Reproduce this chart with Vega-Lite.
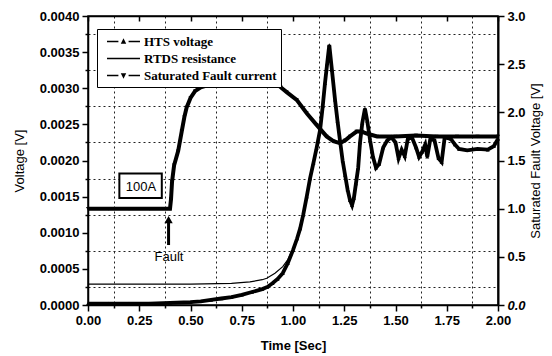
{
  "$schema": "https://vega.github.io/schema/vega-lite/v6.json",
  "width": 410,
  "height": 289,
  "autosize": {"type": "none"},
  "padding": {"left": 88, "top": 16, "right": 54, "bottom": 51},
  "background": "white",
  "config": {
    "view": {"stroke": "black", "strokeWidth": 1.5},
    "axis": {
      "labelFont": "Liberation Sans", "labelFontSize": 13, "labelFontWeight": "bold", "labelColor": "black",
      "titleFont": "Liberation Sans", "titleFontSize": 13, "titleFontWeight": "normal", "titleColor": "black",
      "domainColor": "black", "domainWidth": 1.5, "tickColor": "black", "tickWidth": 1.5,
      "labelOverlap": false, "labelFlush": false
    }
  },
  "datasets": {
    "curves": [
      {"s": "HTS voltage", "t": 0.0, "v": 0.00002},
      {"s": "HTS voltage", "t": 0.1, "v": 0.00002},
      {"s": "HTS voltage", "t": 0.2, "v": 0.00002},
      {"s": "HTS voltage", "t": 0.3, "v": 0.00002},
      {"s": "HTS voltage", "t": 0.4, "v": 0.00003},
      {"s": "HTS voltage", "t": 0.5, "v": 0.00004},
      {"s": "HTS voltage", "t": 0.55, "v": 0.00005},
      {"s": "HTS voltage", "t": 0.6, "v": 0.00007},
      {"s": "HTS voltage", "t": 0.65, "v": 0.00009},
      {"s": "HTS voltage", "t": 0.7, "v": 0.00011},
      {"s": "HTS voltage", "t": 0.75, "v": 0.00014},
      {"s": "HTS voltage", "t": 0.8, "v": 0.00018},
      {"s": "HTS voltage", "t": 0.85, "v": 0.00022},
      {"s": "HTS voltage", "t": 0.875, "v": 0.00025},
      {"s": "HTS voltage", "t": 0.9, "v": 0.0003},
      {"s": "HTS voltage", "t": 0.925, "v": 0.00036},
      {"s": "HTS voltage", "t": 0.95, "v": 0.00044},
      {"s": "HTS voltage", "t": 0.975, "v": 0.00058},
      {"s": "HTS voltage", "t": 1.0, "v": 0.00076},
      {"s": "HTS voltage", "t": 1.02, "v": 0.00092},
      {"s": "HTS voltage", "t": 1.035, "v": 0.00106},
      {"s": "HTS voltage", "t": 1.05, "v": 0.00125},
      {"s": "HTS voltage", "t": 1.067, "v": 0.0015},
      {"s": "HTS voltage", "t": 1.083, "v": 0.00175},
      {"s": "HTS voltage", "t": 1.1, "v": 0.00197},
      {"s": "HTS voltage", "t": 1.115, "v": 0.00217},
      {"s": "HTS voltage", "t": 1.132, "v": 0.00242},
      {"s": "HTS voltage", "t": 1.145, "v": 0.00275},
      {"s": "HTS voltage", "t": 1.156, "v": 0.00307},
      {"s": "HTS voltage", "t": 1.167, "v": 0.00335},
      {"s": "HTS voltage", "t": 1.177, "v": 0.0036},
      {"s": "HTS voltage", "t": 1.19, "v": 0.00325},
      {"s": "HTS voltage", "t": 1.205, "v": 0.00284},
      {"s": "HTS voltage", "t": 1.217, "v": 0.00255},
      {"s": "HTS voltage", "t": 1.229, "v": 0.00228},
      {"s": "HTS voltage", "t": 1.242, "v": 0.002},
      {"s": "HTS voltage", "t": 1.254, "v": 0.0018},
      {"s": "HTS voltage", "t": 1.266, "v": 0.0016},
      {"s": "HTS voltage", "t": 1.278, "v": 0.00145},
      {"s": "HTS voltage", "t": 1.288, "v": 0.00138},
      {"s": "HTS voltage", "t": 1.297, "v": 0.00148},
      {"s": "HTS voltage", "t": 1.307, "v": 0.00168},
      {"s": "HTS voltage", "t": 1.318, "v": 0.0019},
      {"s": "HTS voltage", "t": 1.327, "v": 0.00225},
      {"s": "HTS voltage", "t": 1.338, "v": 0.00252},
      {"s": "HTS voltage", "t": 1.351, "v": 0.00272},
      {"s": "HTS voltage", "t": 1.362, "v": 0.00255},
      {"s": "HTS voltage", "t": 1.376, "v": 0.00228},
      {"s": "HTS voltage", "t": 1.39, "v": 0.00205},
      {"s": "HTS voltage", "t": 1.405, "v": 0.0019},
      {"s": "HTS voltage", "t": 1.42, "v": 0.00195},
      {"s": "HTS voltage", "t": 1.44, "v": 0.00218},
      {"s": "HTS voltage", "t": 1.46, "v": 0.00228},
      {"s": "HTS voltage", "t": 1.48, "v": 0.00232},
      {"s": "HTS voltage", "t": 1.5, "v": 0.00225},
      {"s": "HTS voltage", "t": 1.515, "v": 0.00203},
      {"s": "HTS voltage", "t": 1.53, "v": 0.00215},
      {"s": "HTS voltage", "t": 1.545, "v": 0.00206},
      {"s": "HTS voltage", "t": 1.56, "v": 0.0023},
      {"s": "HTS voltage", "t": 1.58, "v": 0.00232},
      {"s": "HTS voltage", "t": 1.6, "v": 0.00218},
      {"s": "HTS voltage", "t": 1.615, "v": 0.00205},
      {"s": "HTS voltage", "t": 1.63, "v": 0.00212},
      {"s": "HTS voltage", "t": 1.645, "v": 0.00222},
      {"s": "HTS voltage", "t": 1.655, "v": 0.00205},
      {"s": "HTS voltage", "t": 1.67, "v": 0.0023},
      {"s": "HTS voltage", "t": 1.69, "v": 0.00228},
      {"s": "HTS voltage", "t": 1.71, "v": 0.00203},
      {"s": "HTS voltage", "t": 1.725, "v": 0.00198},
      {"s": "HTS voltage", "t": 1.74, "v": 0.00232},
      {"s": "HTS voltage", "t": 1.77, "v": 0.0023},
      {"s": "HTS voltage", "t": 1.79, "v": 0.00222},
      {"s": "HTS voltage", "t": 1.81, "v": 0.00216},
      {"s": "HTS voltage", "t": 1.85, "v": 0.00214},
      {"s": "HTS voltage", "t": 1.9, "v": 0.00216},
      {"s": "HTS voltage", "t": 1.95, "v": 0.00215},
      {"s": "HTS voltage", "t": 1.98, "v": 0.0022},
      {"s": "HTS voltage", "t": 2.0, "v": 0.0023},
      {"s": "RTDS resistance", "t": 0.0, "v": 0.00029},
      {"s": "RTDS resistance", "t": 0.5, "v": 0.00029},
      {"s": "RTDS resistance", "t": 0.7, "v": 0.0003},
      {"s": "RTDS resistance", "t": 0.79, "v": 0.00032},
      {"s": "RTDS resistance", "t": 0.85, "v": 0.00035},
      {"s": "RTDS resistance", "t": 0.872, "v": 0.00037},
      {"s": "RTDS resistance", "t": 0.912, "v": 0.00044},
      {"s": "RTDS resistance", "t": 0.95, "v": 0.00053},
      {"s": "RTDS resistance", "t": 0.975, "v": 0.00063},
      {"s": "RTDS resistance", "t": 1.0, "v": 0.00078},
      {"s": "RTDS resistance", "t": 1.035, "v": 0.00106},
      {"s": "RTDS resistance", "t": 1.067, "v": 0.0015},
      {"s": "RTDS resistance", "t": 1.1, "v": 0.00197},
      {"s": "Saturated Fault current", "t": 0.0, "v": 1.0},
      {"s": "Saturated Fault current", "t": 0.1, "v": 1.0},
      {"s": "Saturated Fault current", "t": 0.2, "v": 1.0},
      {"s": "Saturated Fault current", "t": 0.3, "v": 1.0},
      {"s": "Saturated Fault current", "t": 0.4, "v": 1.0},
      {"s": "Saturated Fault current", "t": 0.405, "v": 1.1},
      {"s": "Saturated Fault current", "t": 0.41, "v": 1.28},
      {"s": "Saturated Fault current", "t": 0.42, "v": 1.45},
      {"s": "Saturated Fault current", "t": 0.44, "v": 1.6},
      {"s": "Saturated Fault current", "t": 0.457, "v": 1.8},
      {"s": "Saturated Fault current", "t": 0.47, "v": 1.95},
      {"s": "Saturated Fault current", "t": 0.481, "v": 2.05},
      {"s": "Saturated Fault current", "t": 0.5, "v": 2.15},
      {"s": "Saturated Fault current", "t": 0.522, "v": 2.22},
      {"s": "Saturated Fault current", "t": 0.55, "v": 2.26},
      {"s": "Saturated Fault current", "t": 0.6, "v": 2.29},
      {"s": "Saturated Fault current", "t": 0.7, "v": 2.35},
      {"s": "Saturated Fault current", "t": 0.8, "v": 2.37},
      {"s": "Saturated Fault current", "t": 0.87, "v": 2.35},
      {"s": "Saturated Fault current", "t": 0.904, "v": 2.32},
      {"s": "Saturated Fault current", "t": 0.94, "v": 2.26},
      {"s": "Saturated Fault current", "t": 0.969, "v": 2.21},
      {"s": "Saturated Fault current", "t": 1.018, "v": 2.13},
      {"s": "Saturated Fault current", "t": 1.067, "v": 1.99},
      {"s": "Saturated Fault current", "t": 1.115, "v": 1.87},
      {"s": "Saturated Fault current", "t": 1.164, "v": 1.75},
      {"s": "Saturated Fault current", "t": 1.197, "v": 1.7},
      {"s": "Saturated Fault current", "t": 1.229, "v": 1.68},
      {"s": "Saturated Fault current", "t": 1.255, "v": 1.71},
      {"s": "Saturated Fault current", "t": 1.278, "v": 1.75},
      {"s": "Saturated Fault current", "t": 1.31, "v": 1.8},
      {"s": "Saturated Fault current", "t": 1.335, "v": 1.8},
      {"s": "Saturated Fault current", "t": 1.36, "v": 1.78},
      {"s": "Saturated Fault current", "t": 1.41, "v": 1.75},
      {"s": "Saturated Fault current", "t": 1.5, "v": 1.75},
      {"s": "Saturated Fault current", "t": 1.6, "v": 1.76},
      {"s": "Saturated Fault current", "t": 1.7, "v": 1.75},
      {"s": "Saturated Fault current", "t": 1.8, "v": 1.75},
      {"s": "Saturated Fault current", "t": 1.9, "v": 1.75},
      {"s": "Saturated Fault current", "t": 2.0, "v": 1.75}
    ]
  },
  "resolve": {"scale": {"y": "independent"}, "axis": {"x": "independent", "y": "independent"}},
  "layer": [
    {
      "resolve": {"axis": {"x": "independent", "y": "independent"}},
      "layer": [
        {
          "data": {"name": "curves"},
          "transform": [{"filter": "datum.s == 'RTDS resistance'"}],
          "mark": {"type": "line", "color": "black", "strokeWidth": 1.2},
          "encoding": {
            "x": {"field": "t", "type": "quantitative",
              "scale": {"domain": [0, 2], "nice": false, "zero": false},
              "axis": {
                "orient": "bottom",
                "values": [0.125, 0.375, 0.625, 0.875, 1.125, 1.375, 1.625, 1.875],
                "labels": false, "title": null, "domain": false,
                "tickSize": 3,
                "grid": true, "gridDash": [2, 3], "gridColor": "#222222", "gridWidth": 1, "gridOpacity": 1
              }
            },
            "y": {"field": "v", "type": "quantitative",
              "scale": {"domain": [0, 0.004], "nice": false},
              "axis": {
                "orient": "left",
                "values": [0.00025, 0.00075, 0.00125, 0.00175, 0.00225, 0.00275, 0.00325, 0.00375],
                "labels": false, "title": null, "domain": false,
                "tickSize": 3,
                "grid": true, "gridDash": [2, 3], "gridColor": "#222222", "gridWidth": 1, "gridOpacity": 1
              }
            }
          }
        },
        {
          "data": {"name": "curves"},
          "transform": [{"filter": "datum.s == 'HTS voltage'"}],
          "mark": {"type": "line", "color": "black", "strokeWidth": 3.8},
          "encoding": {
            "x": {"field": "t", "type": "quantitative", "title": "Time [Sec]",
              "axis": {
                "orient": "bottom",
                "values": [0, 0.25, 0.5, 0.75, 1, 1.25, 1.5, 1.75, 2],
                "format": ".2f",
                "tickSize": 6,
                "grid": false,
                "labelPadding": 3,
                "titlePadding": 12,
                "titleFontWeight": "bold"
              }
            },
            "y": {"field": "v", "type": "quantitative", "title": "Voltage [V]",
              "axis": {
                "orient": "left",
                "values": [0, 0.0005, 0.001, 0.0015, 0.002, 0.0025, 0.003, 0.0035, 0.004],
                "format": ".4f",
                "tickSize": 6,
                "grid": false,
                "labelPadding": 3,
                "titlePadding": 13
              }
            }
          }
        },
        {
          "data": {"name": "curves"},
          "transform": [{"filter": "datum.s == 'HTS voltage'"}],
          "mark": {"type": "point", "shape": "triangle-up", "filled": true, "color": "black", "size": 16, "opacity": 1},
          "encoding": {
            "x": {"field": "t", "type": "quantitative", "axis": null},
            "y": {"field": "v", "type": "quantitative", "axis": null}
          }
        },
        {
          "data": {"values": [{"t": 0.153, "t2": 0.36, "v": 0.00148, "v2": 0.00182}]},
          "mark": {"type": "rect", "fill": "white", "stroke": "black", "strokeWidth": 2},
          "encoding": {
            "x": {"field": "t", "type": "quantitative", "axis": null},
            "x2": {"field": "t2"},
            "y": {"field": "v", "type": "quantitative", "axis": null},
            "y2": {"field": "v2"}
          }
        },
        {
          "data": {"values": [{"t": 0.258, "v": 0.00163, "label": "100A"}, {"t": 0.395, "v": 0.00066, "label": "Fault"}]},
          "mark": {"type": "text", "font": "Liberation Sans", "fontSize": 13, "color": "black", "align": "center", "baseline": "middle"},
          "encoding": {
            "x": {"field": "t", "type": "quantitative", "axis": null},
            "y": {"field": "v", "type": "quantitative", "axis": null},
            "text": {"field": "label"}
          }
        },
        {
          "data": {"values": [{"t": 0.393, "v": 0.00083, "v2": 0.00115}]},
          "mark": {"type": "rule", "color": "black", "strokeWidth": 3},
          "encoding": {
            "x": {"field": "t", "type": "quantitative", "axis": null},
            "y": {"field": "v", "type": "quantitative", "axis": null},
            "y2": {"field": "v2"}
          }
        },
        {
          "data": {"values": [{"t": 0.393, "v": 0.00118}]},
          "mark": {"type": "point", "shape": "triangle-up", "filled": true, "color": "black", "size": 70, "opacity": 1},
          "encoding": {
            "x": {"field": "t", "type": "quantitative", "axis": null},
            "y": {"field": "v", "type": "quantitative", "axis": null}
          }
        },
        {
          "data": {"name": "curves"},
          "mark": {"type": "point", "filled": true, "color": "black", "opacity": 0, "size": 10},
          "encoding": {
            "x": {"field": "t", "type": "quantitative", "axis": null},
            "y": {"field": "v", "type": "quantitative", "axis": null},
            "shape": {
              "field": "s", "type": "nominal",
              "scale": {
                "domain": ["HTS voltage", "RTDS resistance", "Saturated Fault current"],
                "range": [
                  "M-1.94,-0.09H-0.6V0.09H-1.94Z M0.6,-0.09H1.94V0.09H0.6Z M0,-0.38L0.32,0.26L-0.32,0.26Z",
                  "M-1.94,-0.08H1.94V0.08H-1.94Z",
                  "M-1.94,-0.09H-0.6V0.09H-1.94Z M0.6,-0.09H1.94V0.09H0.6Z M0,0.38L0.32,-0.26L-0.32,-0.26Z"
                ]
              },
              "legend": {
                "orient": "none", "legendX": 9, "legendY": 13,
                "title": null,
                "strokeColor": "black", "fillColor": "white", "padding": 4,
                "labelFont": "Liberation Serif", "labelFontSize": 13, "labelFontWeight": "bold", "labelColor": "black",
                "symbolSize": 289, "symbolFillColor": "black", "symbolStrokeWidth": 0,
                "symbolOpacity": 1, "symbolOffset": 14,
                "rowPadding": 1, "labelOffset": 12
              }
            }
          }
        }
      ]
    },
    {
      "layer": [
        {
          "data": {"name": "curves"},
          "transform": [{"filter": "datum.s == 'Saturated Fault current'"}],
          "mark": {"type": "line", "color": "black", "strokeWidth": 4},
          "encoding": {
            "x": {"field": "t", "type": "quantitative", "title": null,
              "axis": {
                "orient": "top",
                "values": [0, 0.125, 0.25, 0.375, 0.5, 0.625, 0.75, 0.875, 1, 1.125, 1.25, 1.375, 1.5, 1.625, 1.75, 1.875, 2],
                "labels": false,
                "grid": false,
                "tickSize": -5
              }
            },
            "y": {"field": "v", "type": "quantitative", "title": "Saturated Fault Voltage [V]",
              "scale": {"domain": [0, 3], "nice": false},
              "axis": {
                "orient": "right",
                "values": [0, 0.5, 1, 1.5, 2, 2.5, 3],
                "format": ".1f",
                "tickSize": 6,
                "domainWidth": 2,
                "labelFontStyle": {"condition": {"test": "datum.value == 0", "value": "italic"}, "value": "normal"},
                "grid": false,
                "labelPadding": 3,
                "titlePadding": 4,
                "titleAngle": 270,
                "titleBaseline": "top"
              }
            }
          }
        },
        {
          "data": {"name": "curves"},
          "transform": [{"filter": "datum.s == 'Saturated Fault current'"}],
          "mark": {"type": "point", "shape": "triangle-down", "filled": true, "color": "black", "size": 16, "opacity": 1},
          "encoding": {
            "x": {"field": "t", "type": "quantitative", "title": null},
            "y": {"field": "v", "type": "quantitative", "title": "Saturated Fault Voltage [V]"}
          }
        }
      ]
    }
  ]
}
